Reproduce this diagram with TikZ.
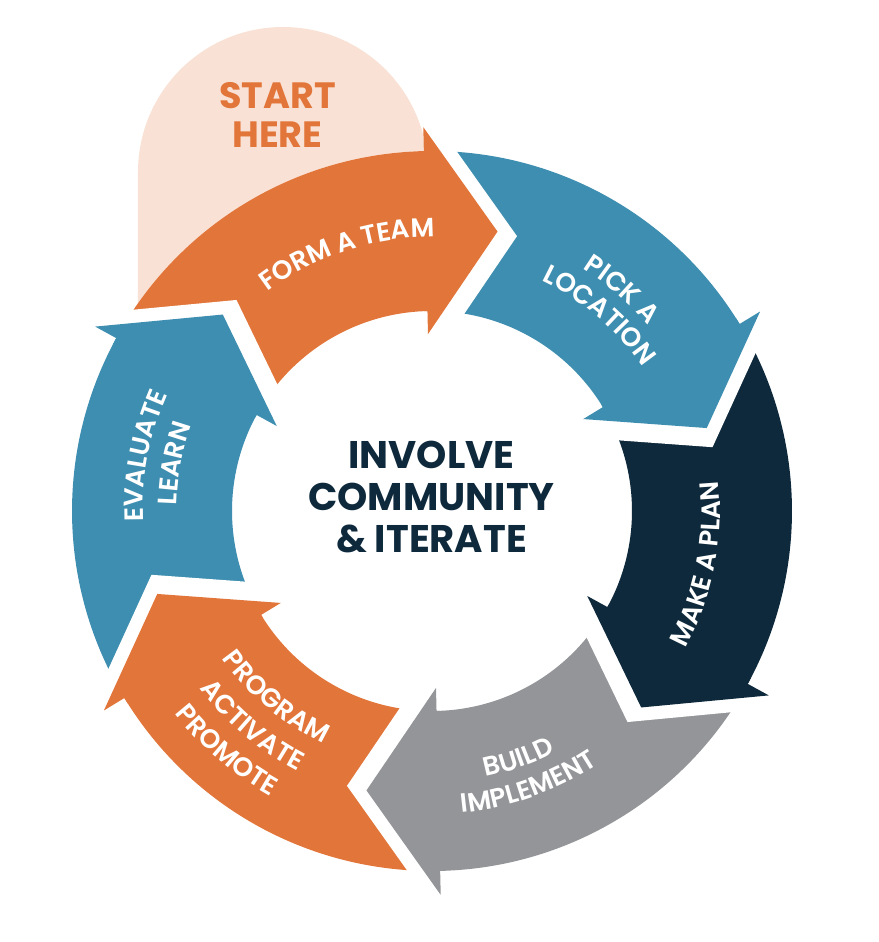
\documentclass[tikz,border=0pt]{standalone}
\usepackage{fontspec}
\setmainfont{Poppins}
\newfontfamily\lblface{Poppins}[UprightFont={* SemiBold}]
\usetikzlibrary{calc,decorations.text}
\definecolor{orng}{RGB}{226,117,57}
\definecolor{blu}{RGB}{61,142,176}
\definecolor{navy}{RGB}{13,41,59}
\definecolor{gry}{RGB}{147,149,152}
\definecolor{pnk}{RGB}{249,226,213}
\newcommand\lblfont{\color{white}\lblface\fontsize{26.5}{26.5}\selectfont}
\newcommand\cwtext[3]{\path[lbl={#3}] (#1+80:#2) arc[start angle=#1+80, end angle=#1-80, radius=#2];}
\newcommand\ccwtext[3]{\path[lbl={#3}] (#1-80:#2) arc[start angle=#1-80, end angle=#1+80, radius=#2];}
\tikzset{
  lbl/.style={decorate, decoration={text along path, text align=center, text={|\lblfont|#1}}},
  gapfill/.style={fill=white},
  centertext/.style={text=navy, align=center, font=\fontsize{38.5}{42}\selectfont\bfseries},
  starttext/.style={text=orng, align=center, font=\fontsize{36.6}{39}\selectfont\bfseries}
}
\begin{document}
\begin{tikzpicture}[x=1pt,y=1pt]
\useasboundingbox (-432,-431) rectangle (446,511);
% start here arch
\fill[pnk] (-294,207.8) -- (-294,339) arc[start angle=180, end angle=0, radius=145]
  -- (-4,360) arc[start angle=90.64, end angle=144.75, radius=360] -- cycle;
% ring bodies
\foreach \b/\c in {91.3/orng,31.3/blu,-28.7/navy,-88.7/gry,-148.7/orng,151.3/blu}{
  \fill[\c] (\b+60:360) arc[start angle=\b+60, end angle=\b, radius=360]
    -- (\b:200) arc[start angle=\b, end angle=\b+60, radius=200] -- cycle;
}
% gaps and arrow heads
\foreach \b/\c in {91.3/orng,31.3/blu,-28.7/navy,-88.7/gry,-148.7/orng,151.3/blu}{
  \pgfmathsetmacro\t{\b-14.5}
  \pgfmathsetmacro\s{\t-90}
  \fill[gapfill] (\b:384) -- ($(\b:384)+(\s:20)$) -- ($(\t:287)+(\s:20)$)
    -- ($(\b:177)+(\s:20)$) -- (\b:177) -- cycle;
  \fill[\c] (\b:384) -- (\t:287) -- (\b:177) -- (\b:200) -- (\b+1:200)
    -- (\b+1:360) -- (\b:360) -- cycle;
}
% labels
\cwtext{108.2}{274}{FORM A TEAM}
\cwtext{49.4}{285}{PICK A}
\cwtext{49.5}{255}{LOCATION}
\ccwtext{-11.2}{288}{MAKE A PLAN}
\ccwtext{-70.8}{271}{BUILD}
\ccwtext{-70.5}{303}{IMPLEMENT}
\ccwtext{230}{256.5}{PROGRAM}
\ccwtext{230}{292.7}{ACTIVATE}
\ccwtext{229.4}{327.6}{PROMOTE}
\cwtext{169.1}{289}{EVALUATE}
\cwtext{169.5}{255}{LEARN}
% centre and start texts
\node[centertext] (centre) at (-0.5,13.5) {INVOLVE\\COMMUNITY\\\&\ ITERATE};
\node[starttext] (start) at (-154.5,396.5) {START\\HERE};
\end{tikzpicture}
\end{document}
